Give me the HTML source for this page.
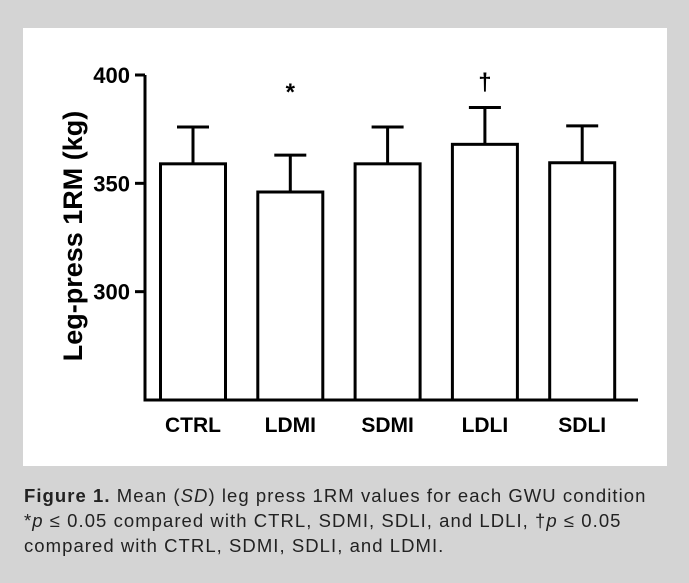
<!DOCTYPE html>
<html><head><meta charset="utf-8"><style>
body{margin:0;width:689px;height:583px;background:#d4d4d4;font-family:"Liberation Sans",sans-serif;overflow:hidden}
#panel{position:absolute;left:23px;top:28px;width:644px;height:438px;background:#fff}
#cap{position:absolute;left:24px;top:483px;width:665px;font-size:18.5px;letter-spacing:1.05px;line-height:25px;color:#222;white-space:nowrap}
</style></head><body>
<div id="panel"></div>
<svg id="chart" width="689" height="583" style="position:absolute;left:0;top:0"></svg>
<div id="cap"><b>Figure 1.</b> Mean (<i>SD</i>) leg press 1RM values for each GWU condition<br>*<i>p</i> ≤ 0.05 compared with CTRL, SDMI, SDLI, and LDLI, †<i>p</i> ≤ 0.05<br>compared with CTRL, SDMI, SDLI, and LDMI.</div>
<script>
const categories=["CTRL","LDMI","SDMI","LDLI","SDLI"];
const means=[359,346,359,368,359.5];
const sds=[17,17,17,17,17];
const marks=["","*","","†",""];
const yTicks=[300,350,400];
const svg=document.getElementById('chart');
const NS="http://www.w3.org/2000/svg";
const x0=145,x1=638,yTop=75,yBot=400,vMin=250,vMax=400;
function y(v){return yBot-(v-vMin)/(vMax-vMin)*(yBot-yTop);}
function xc(i){return 193+i*97.3;}
function el(t,a){const e=document.createElementNS(NS,t);for(const k in a)e.setAttribute(k,a[k]);svg.appendChild(e);return e;}
categories.forEach((c,i)=>{
  const cx=xc(i),w=65;
  const eb=el('path',{d:`M${cx} ${y(means[i])}V${y(means[i]+sds[i])}M${cx-16} ${y(means[i]+sds[i])}H${cx+16}`,stroke:'#000','stroke-width':3,fill:'none'});
  
  
  const r=el('rect',{x:cx-w/2,y:y(means[i]),width:w,height:yBot-y(means[i]),fill:'#fff',stroke:'#000','stroke-width':3});
  
  
  const t=el('text',{x:cx,y:432,'text-anchor':'middle','font-size':21,'font-weight':'bold'});t.textContent=c;
  
  
  if(marks[i]){const m=el('text',{x:cx,y:marks[i]==='*'?100:90,'text-anchor':'middle','font-size':24,'font-weight':'bold'});m.textContent=marks[i];
  
  }
});
const ax=el('path',{d:`M${x0} ${yTop}V${yBot}H${x1}`,stroke:'#000','stroke-width':3,fill:'none'});


yTicks.forEach(v=>{
  el('line',{x1:135,x2:x0,y1:y(v),y2:y(v),stroke:'#000','stroke-width':3});
  const t=el('text',{x:130,y:y(v)+8,'text-anchor':'end','font-size':22,'font-weight':'bold'});t.textContent=v;
  
  
});
const yt=el('text',{x:0,y:0,transform:'translate(82,236) rotate(-90)','text-anchor':'middle','font-size':27,'font-weight':'bold'});
yt.textContent='Leg-press 1RM (kg)';


</script>
</body></html>
